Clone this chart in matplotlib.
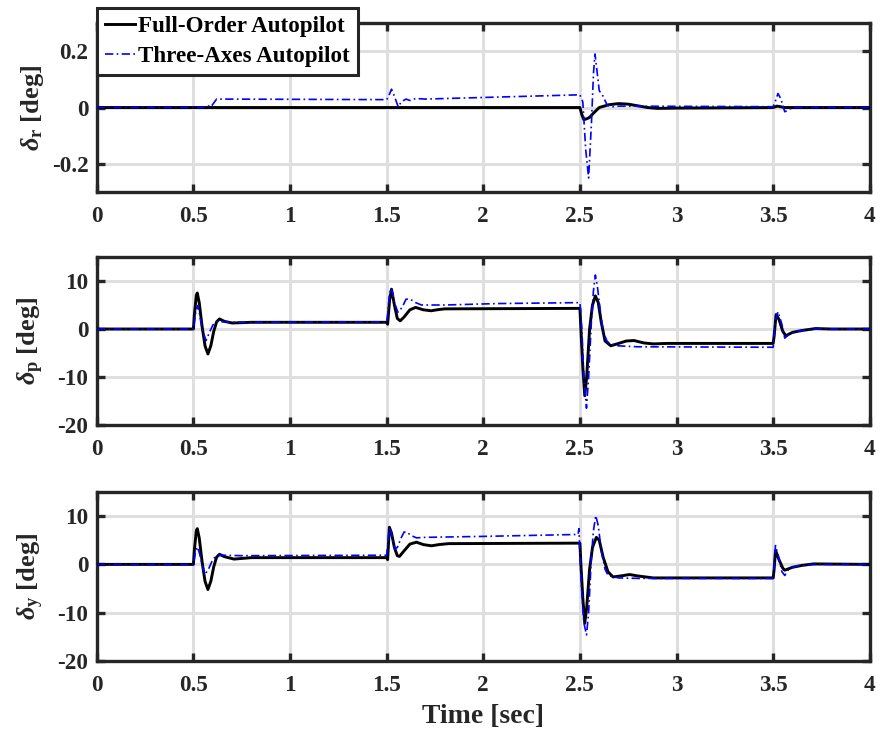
#!/usr/bin/env python
"""Actuator deflections: full-order vs three-axes autopilot"""
# %%
import numpy as np
import matplotlib
matplotlib.use("Agg")
import matplotlib.pyplot as plt

# %% ---------------------------------
#           data
# ------------------------------------
# roll channel (delta_r)
t_r_full = [0, 2.50, 2.51, 2.52, 2.535, 2.55, 2.57, 2.60, 2.65, 2.70, 2.75, 2.80, 2.85, 2.90, 3.0,
            3.5, 3.52, 3.56, 3.6, 4.0]
d_r_full = [0, 0, -0.025, -0.043, -0.04, -0.035, -0.02, 0.0, 0.01, 0.014, 0.012, 0.006, 0.0, -0.003, -0.002,
            0, 0.005, 0.0, 0, 0]
t_r_3ax = [0, 0.55, 0.57, 0.59, 0.62, 0.65, 1.5, 1.51, 1.525, 1.54, 1.56, 1.575, 1.6, 1.62, 1.65, 1.7,
           2.49, 2.50, 2.515, 2.53, 2.545, 2.56, 2.57, 2.578, 2.59, 2.6, 2.62, 2.64, 2.66, 2.7,
           3.5, 3.51, 3.525, 3.54, 3.56, 3.575, 3.6, 3.65, 4.0]
d_r_3ax = [0, 0, 0.008, 0.002, 0.03, 0.03, 0.028, 0.04, 0.065, 0.04, 0.002, 0.02, 0.03, 0.025, 0.032, 0.03,
           0.045, 0.045, 0.02, -0.15, -0.25, -0.05, 0.12, 0.19, 0.12, 0.06, 0.04, 0.01, 0.002, 0.005,
           0.003, 0.02, 0.05, 0.03, -0.015, -0.01, 0.0, 0, 0]

# pitch channel (delta_p)
t_p_full = [0, 0.50, 0.505, 0.515, 0.52, 0.53, 0.545, 0.56, 0.575, 0.59, 0.605, 0.62, 0.635, 0.66, 0.7, 0.8,
            1.5, 1.505, 1.515, 1.525, 1.54, 1.555, 1.57, 1.59, 1.62, 1.65, 1.69, 1.73, 1.76, 1.8,
            2.5, 2.505, 2.515, 2.525, 2.535, 2.55, 2.565, 2.58, 2.595, 2.61, 2.63, 2.66, 2.7, 2.74, 2.78,
            2.83, 2.88, 2.95, 3.5, 3.505, 3.515, 3.53, 3.55, 3.565, 3.6, 3.65, 3.72, 3.8, 4.0]
d_p_full = [0, 0, 3.0, 7.0, 7.5, 5.5, 0.5, -3.5, -5.2, -3.5, -0.5, 1.5, 2.1, 1.6, 1.25, 1.4,
            1.4, 1.0, 6.0, 8.3, 5.0, 2.2, 1.7, 2.5, 4.0, 4.5, 4.0, 3.8, 4.0, 4.2,
            4.3, 0.0, -8, -13.9, -10, 0, 5.0, 6.9, 5.5, 1.5, -2.5, -3.5, -3.0, -2.5, -2.4,
            -2.9, -3.1, -3.0, -3.0, -1.5, 3.0, 2.0, -0.5, -1.4, -0.7, -0.3, 0.1, 0, 0]
t_p_3ax = [0, 0.50, 0.51, 0.52, 0.53, 0.545, 0.565, 0.58, 0.6, 0.62, 0.65, 0.7,
           1.5, 1.505, 1.515, 1.525, 1.54, 1.558, 1.58, 1.6, 1.62, 1.65, 1.68, 1.71, 1.8, 2.07,
           2.5, 2.51, 2.52, 2.534, 2.545, 2.56, 2.57, 2.58, 2.59, 2.605, 2.62, 2.64, 2.655, 2.7, 2.74, 2.8,
           3.5, 3.505, 3.51, 3.525, 3.545, 3.56, 3.58, 3.62, 3.7, 4.0]
d_p_3ax = [0, 0, 3.0, 4.9, 3.5, 0.0, -2.4, -1.0, 0.8, 1.5, 1.5, 1.4,
           1.5, 3.0, 7.5, 8.5, 5.5, 3.5, 4.5, 6.2, 6.25, 5.5, 5.0, 5.0, 5.0, 5.3,
           5.5, 0, -10, -16.5, -10, 2, 8, 11.25, 9, 4, -0.5, -2.5, -3.1, -3.5, -3.6, -3.7,
           -3.8, -1.5, 1.5, 3.6, 1.0, -1.9, -1.2, -0.5, 0, 0]

# yaw channel (delta_y)
t_y_full = [0, 0.50, 0.505, 0.515, 0.52, 0.53, 0.545, 0.56, 0.575, 0.59, 0.605, 0.62, 0.635, 0.66, 0.71, 0.8,
            1.5, 1.505, 1.514, 1.525, 1.54, 1.555, 1.566, 1.59, 1.62, 1.654, 1.69, 1.732, 1.77, 1.82,
            2.5, 2.505, 2.515, 2.525, 2.535, 2.55, 2.565, 2.585, 2.6, 2.62, 2.645, 2.671, 2.71, 2.757, 2.8, 2.88,
            3.5, 3.505, 3.512, 3.53, 3.55, 3.56, 3.6, 3.65, 3.71, 4.0]
d_y_full = [0, 0, 3.0, 7.0, 7.4, 5.5, 0.5, -3.5, -5.2, -3.5, -0.5, 1.5, 2.1, 1.6, 1.1, 1.4,
            1.4, 1.0, 7.7, 6.5, 3.5, 1.8, 1.65, 2.8, 4.2, 4.6, 4.1, 3.85, 4.1, 4.3,
            4.4, 0, -7, -12.2, -9, -1, 3.5, 5.6, 5.0, 1.5, -1.5, -2.6, -2.4, -2.1, -2.4, -2.8,
            -2.8, -1, 2.9, 1.0, -0.8, -1.2, -0.6, -0.2, 0.1, 0]
t_y_3ax = [0, 0.50, 0.51, 0.52, 0.53, 0.545, 0.56, 0.58, 0.6, 0.62, 0.65, 0.75,
           1.5, 1.505, 1.514, 1.525, 1.542, 1.555, 1.575, 1.59, 1.605, 1.625, 1.654, 1.7, 2.0,
           2.49, 2.495, 2.5, 2.51, 2.52, 2.534, 2.545, 2.56, 2.57, 2.582, 2.595, 2.61, 2.63, 2.646, 2.7, 2.8,
           3.5, 3.505, 3.512, 3.525, 3.545, 3.56, 3.58, 3.62, 3.7, 4.0]
d_y_3ax = [0, 0, 2.5, 3.6, 2.5, 0, -2.1, -0.8, 1.0, 1.8, 1.9, 1.8,
           1.9, 4.0, 7.8, 6.5, 3.2, 3.5, 5.5, 6.7, 6.7, 6.0, 5.5, 5.6, 5.8,
           6.2, 7.4, 2, -6, -12, -14.6, -10, 2, 7, 10.1, 8, 3, -1, -2.3, -2.8, -2.9,
           -2.9, -0.5, 3.9, 2.0, -1.5, -2.3, -1.0, -0.3, 0, 0]

channels = ['r', 'p', 'y']
x_ticks = [0, 0.5, 1, 1.5, 2, 2.5, 3, 3.5, 4]
x_ticklabels = ['0', '0.5', '1', '1.5', '2', '2.5', '3', '3.5', '4']
y_ticks_r = [-0.2, 0, 0.2]
y_ticklabels_r = ['-0.2', '0', '0.2']
y_ticks_py = [-20, -10, 0, 10]
y_ticklabels_py = ['-20', '-10', '0', '10']
legend_labels = ['Full-Order Autopilot', 'Three-Axes Autopilot']

# %% ---------------------------------
#           style
# ------------------------------------
plt.rcParams['font.family'] = ['Liberation Serif', 'DejaVu Serif']
plt.rcParams['font.weight'] = 'bold'
plt.rcParams['mathtext.fontset'] = 'custom'
plt.rcParams['mathtext.rm'] = 'Liberation Serif:bold'
plt.rcParams['mathtext.it'] = 'Liberation Serif:italic:bold'
plt.rcParams['mathtext.bf'] = 'Liberation Serif:bold'

fs_tick = 16.7
fs_leg = 16.6
fs_ylab = 19
fs_xlab = 20
edge = '#262626'
grid_c = '#dfdfdf'

fig = plt.figure(figsize=(8.8, 7.31), dpi=100)
ax_pos = [[0.110, 0.7373, 0.8784, 0.2312],
          [0.110, 0.4186, 0.8784, 0.2298],
          [0.110, 0.0958, 0.8784, 0.2312]]

series = [(t_r_full, d_r_full, t_r_3ax, d_r_3ax),
          (t_p_full, d_p_full, t_p_3ax, d_p_3ax),
          (t_y_full, d_y_full, t_y_3ax, d_y_3ax)]

axes = []
for i, ch in enumerate(channels):
    ax = fig.add_axes(ax_pos[i])
    tf, df, t3, d3 = series[i]
    h1, = ax.plot(tf, df, color='k', lw=2.1, solid_joinstyle='round', zorder=3)
    h2, = ax.plot(t3, d3, color=(0, 0, 1), lw=1.2, linestyle=(0, (5, 2, 1, 2)), zorder=4)

    ax.set_xlim(0, 4)
    ax.set_xticks(x_ticks)
    ax.set_xticklabels(x_ticklabels)
    if ch == 'r':
        ax.set_ylim(-0.3, 0.3)
        ax.set_yticks(y_ticks_r)
        ax.set_yticklabels(y_ticklabels_r)
    else:
        ax.set_ylim(-20, 15)
        ax.set_yticks(y_ticks_py)
        ax.set_yticklabels(y_ticklabels_py)

    ax.grid(True, color=grid_c, lw=2.2, zorder=0)
    ax.set_axisbelow(True)
    for s in ax.spines.values():
        s.set_linewidth(2.4)
        s.set_color(edge)
    ax.tick_params(direction='in', length=6, width=2.4, color=edge, top=True, right=True,
                   labelsize=fs_tick, labelcolor=edge)
    ax.tick_params(axis='x', pad=10)
    ax.tick_params(axis='y', pad=6)
    for lab in ax.get_xticklabels() + ax.get_yticklabels():
        lab.set_fontweight('bold')
    ax.set_ylabel(r'$\delta_{\mathrm{%s}}$ [deg]' % ch, fontsize=fs_ylab, fontweight='bold',
                  color=edge)
    axes.append(ax)
    if i == 0:
        leg_handles = [h1, h2]

axes[-1].set_xlabel('Time [sec]', fontsize=fs_xlab, fontweight='bold', color=edge, labelpad=6)
for ax in axes:
    ax.yaxis.set_label_coords(-0.066, 0.5)

leg = axes[0].legend(leg_handles, legend_labels, loc='upper left', bbox_to_anchor=(0, 1.089),
                     borderaxespad=0, fancybox=False, framealpha=1, edgecolor=edge,
                     prop={'family': 'Liberation Serif', 'weight': 'bold', 'size': fs_leg},
                     handlelength=1.3, handletextpad=0.15, borderpad=0.35, labelspacing=0.38)
leg.get_frame().set_linewidth(2.2)
leg.set_zorder(10)

fig.savefig('out.png', dpi=100)
